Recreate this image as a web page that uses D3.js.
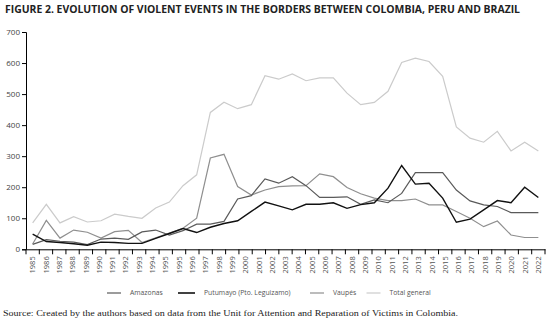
<!DOCTYPE html>
<html><head><meta charset="utf-8">
<script src="https://cdn.jsdelivr.net/npm/d3@7"></script>
<style>
html,body{margin:0;padding:0;background:#fff;}
svg{display:block;}
</style></head>
<body>
<svg id="chart" width="548" height="324"></svg>
<script>
const years = [1985,1986,1987,1988,1989,1990,1991,1992,1993,1994,1995,1996,1997,1998,1999,2000,2001,2002,2003,2004,2005,2006,2007,2008,2009,2010,2011,2012,2013,2014,2015,2016,2017,2018,2019,2020,2021,2022];
const tickLabels = ["1985","1986","1987","1988","1989","1990","1991","1992","1993","1994","1995","1995","1996","1997","1998","1999","2000","2001","2002","2003","2004","2005","2006","2007","2008","2009","2010","2011","2012","2013","2014","2015","2016","2017","2018","2019","2020","2021","2022"];
const yTicks = [0,100,200,300,400,500,600,700];

const amazonas = [16,31,26,23,15,33,36,32,56,62,46,60,81,81,90,162,173,227,213,234,205,167,167,169,145,159,150,180,247,247,247,191,156,143,138,118,118,118];
const putumayo = [49,25,22,18,13,23,22,19,19,35,51,67,54,71,83,92,122,152,140,127,145,145,150,132,144,150,197,270,210,213,165,87,97,127,157,150,200,167];
const vaupes   = [17,93,36,62,55,36,57,61,22,37,52,68,100,294,306,202,175,191,202,204,205,243,234,199,179,165,157,157,162,143,143,122,100,73,91,46,38,38];
const total    = [85,145,85,105,88,92,113,106,100,133,152,205,240,441,474,453,466,559,548,565,543,552,552,503,466,473,509,602,616,605,557,394,358,345,380,317,345,317];

const seriesNames = ["Amazonas","Putumayo (Pto. Leguizamo)","Vaupés","Total general"];
const seriesData = [amazonas, putumayo, vaupes, total];
const seriesColors = ["#5a5a5a","#111111","#8f8f8f","#cbcbcb"];
const seriesWidths = [1.2,1.4,1.2,1.2];

const svg = d3.select("#chart");
const fontSans = "'Open Sans','Noto Sans',sans-serif";

// title
svg.append("text")
  .attr("x",5).attr("y",12.5)
  .attr("textLength",515).attr("lengthAdjust","spacingAndGlyphs")
  .style("font-family",fontSans).style("font-weight","bold").style("font-size","10.5px")
  .style("fill","#222")
  .text("FIGURE 2. EVOLUTION OF VIOLENT EVENTS IN THE BORDERS BETWEEN COLOMBIA, PERU AND BRAZIL");

const xBand = d3.scaleBand().domain(d3.range(tickLabels.length)).range([26,545]).padding(0);
const bw = xBand.bandwidth();
const xPoint = d3.scalePoint().domain(years)
  .range([xBand(0)+bw/2, xBand(tickLabels.length-1)+bw/2]);
const y = d3.scaleLinear().domain([0,700]).range([249.3,32]);

// series lines (drawn under axes)
const line = d3.line().x((d,i)=>xPoint(years[i])).y(d=>y(d));
const order = [3,2,0,1];
order.forEach(k=>{
  svg.append("path")
    .datum(seriesData[k])
    .attr("d",line)
    .attr("fill","none")
    .attr("stroke",seriesColors[k])
    .attr("stroke-width",seriesWidths[k])
    .attr("stroke-linejoin","miter");
});

// y axis
const yAxis = svg.append("g").attr("transform","translate(26,0)")
  .call(d3.axisLeft(y).tickValues(yTicks).tickSize(4).tickPadding(2));
yAxis.select(".domain").attr("stroke","#000").attr("stroke-width",1);
yAxis.selectAll(".tick line").attr("stroke","#000");
yAxis.selectAll("text").style("font-family",fontSans).style("font-size","8px").style("fill","#444");

// x axis
const xAxis = svg.append("g").attr("transform","translate(0,249.3)")
  .call(d3.axisBottom(xBand).tickFormat(i=>tickLabels[i]).tickSize(0).tickSizeOuter(0));
xAxis.select(".domain").attr("stroke","#000").attr("stroke-width",1);
xAxis.selectAll("text")
  .attr("transform","rotate(-90)")
  .attr("x",-7).attr("y",0).attr("dy","0.35em")
  .style("text-anchor","end")
  .style("font-family",fontSans).style("font-size","7.5px").style("fill","#555");
const bounds = xBand.domain().map(i=>xBand(i)).concat([xBand.range()[1]]);
xAxis.selectAll(".btick").data(bounds).enter().append("line")
  .attr("class","btick")
  .attr("x1",d=>d).attr("x2",d=>d).attr("y1",0).attr("y2",5)
  .attr("stroke","#000").attr("stroke-width",1);

// legend
const legendX = [107,178,310,366.5];
const legendY = 293;
const lg = svg.append("g");
seriesNames.forEach((name,k)=>{
  const sw = k===1 ? 17 : 14;
  lg.append("line")
    .attr("x1",legendX[k]).attr("x2",legendX[k]+sw)
    .attr("y1",legendY).attr("y2",legendY)
    .attr("stroke",seriesColors[k]).attr("stroke-width",k===1?1.6:1.2);
  lg.append("text")
    .attr("x",legendX[k]+sw+9).attr("y",legendY).attr("dy","0.35em")
    .style("font-family",fontSans).style("font-size","6.8px").style("fill","#555")
    .text(name);
});

// source
svg.append("text")
  .attr("x",3).attr("y",316)
  .attr("textLength",455).attr("lengthAdjust","spacingAndGlyphs")
  .style("font-family","'Liberation Serif','DejaVu Serif',serif").style("font-size","9px")
  .style("fill","#222")
  .text("Source: Created by the authors based on data from the Unit for Attention and Reparation of Victims in Colombia.");
</script>
</body></html>
